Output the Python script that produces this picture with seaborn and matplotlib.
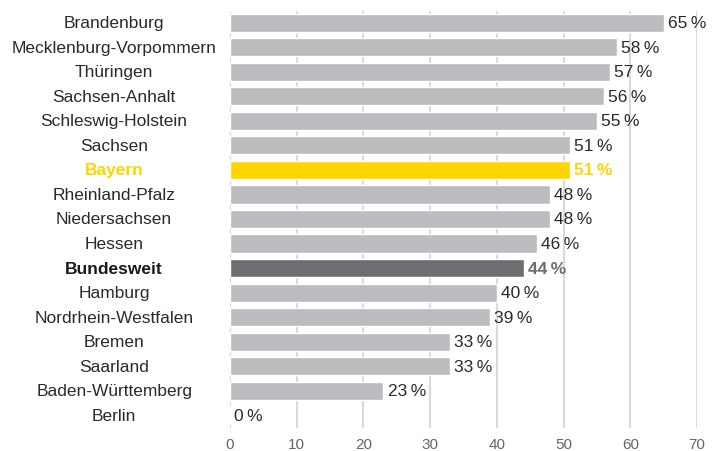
import matplotlib
matplotlib.use("Agg")
import matplotlib.pyplot as plt
import seaborn as sns
import pandas as pd

states = ["Brandenburg", "Mecklenburg-Vorpommern", "Thüringen", "Sachsen-Anhalt",
          "Schleswig-Holstein", "Sachsen", "Bayern", "Rheinland-Pfalz", "Niedersachsen",
          "Hessen", "Bundesweit", "Hamburg", "Nordrhein-Westfalen", "Bremen", "Saarland",
          "Baden-Württemberg", "Berlin"]
values = [65, 58, 57, 56, 55, 51, 51, 48, 48, 46, 44, 40, 39, 33, 33, 23, 0]
xticks = [0, 10, 20, 30, 40, 50, 60, 70]

GRAY = "#BCBCC0"
YELLOW = "#FFD500"
DARK = "#6D6E71"

def kind(s):
    if s == "Bayern":
        return "bayern"
    if s == "Bundesweit":
        return "bund"
    return "other"

df = pd.DataFrame({"state": states, "value": values})
df["kind"] = [kind(s) for s in states]

sns.set_theme(style="white")
plt.rcParams["font.family"] = ["Liberation Sans", "DejaVu Sans"]

fig = plt.figure(figsize=(7.13, 4.52), dpi=100)
W, H = 713, 452
top, bot = 11.5, 428.5
ax = fig.add_axes([230 / W, 1 - bot / H, (697 - 230) / W, (bot - top) / H])

sns.barplot(data=df, x="value", y="state", hue="kind", orient="h",
            palette={"other": GRAY, "bayern": YELLOW, "bund": DARK},
            width=0.74, dodge=False, legend=False, ax=ax, saturation=1)

ax.set_xlim(0, 70)
ax.set_ylim(len(states) - 0.5, -0.5)
ax.set_xticks(xticks)
ax.set_xticklabels([str(t) for t in xticks], color="#666666", fontsize=11)
ax.tick_params(axis="x", length=0, pad=7)
ax.set_yticks([])
ax.set_xlabel("")
ax.set_ylabel("")
for sp in ax.spines.values():
    sp.set_visible(False)
ax.grid(axis="x", color="#DADADA", linewidth=1.5)
ax.set_axisbelow(True)

for i, (s, v) in enumerate(zip(states, values)):
    if s == "Bayern":
        lc, vc, fw = YELLOW, YELLOW, "bold"
    elif s == "Bundesweit":
        lc, vc, fw = "#1a1a1a", DARK, "bold"
    else:
        lc, vc, fw = "#2a2a2a", "#2a2a2a", "normal"
    ax.text(-0.248, i, s, transform=ax.get_yaxis_transform(), ha="center", va="center",
            fontsize=12.5, color=lc, fontweight=fw)
    ax.annotate(f"{v}\u2009%", xy=(v, i), xytext=(3, 0), textcoords="offset points",
                ha="left", va="center", fontsize=12.5, color=vc, fontweight=fw)

fig.savefig("out.png", dpi=100)
